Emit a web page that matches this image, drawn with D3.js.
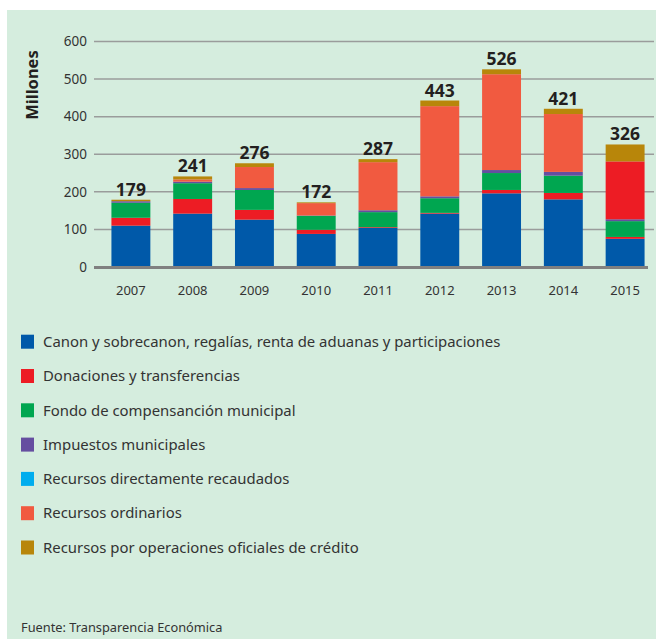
<!DOCTYPE html>
<html>
<head>
<meta charset="utf-8">
<script src="https://cdn.jsdelivr.net/npm/d3@7"></script>
<style>
  html, body { margin: 0; padding: 0; background: #fff; }
  svg { display: block; font-family: "Noto Sans", sans-serif; }
</style>
</head>
<body>
<svg id="chart" width="657" height="639"></svg>
<script>
(() => {

  const years = ["2007", "2008", "2009", "2010", "2011", "2012", "2013", "2014", "2015"]
  const canon = [110, 142, 126, 88, 104, 142, 196, 180, 75]
  const donaciones = [21, 39, 26, 11, 2, 2, 9, 17, 5]
  const fondo = [40, 42, 53, 37, 40, 39, 45, 46, 42]
  const impuestos = [4, 4, 5, 1, 5, 5, 8, 10, 5]
  const directos = [0, 0, 0, 0, 0, 0, 0, 0, 0]
  const ordinarios = [0, 6, 56, 33, 128, 240, 255, 154, 154]
  const credito = [4, 8, 10, 2, 8, 15, 13, 14, 45]
  const totals = [179, 241, 276, 172, 287, 443, 526, 421, 326]
  const yTicks = [0, 100, 200, 300, 400, 500, 600]

  const series = [
    { key: "canon", name: "Canon y sobrecanon, regalías, renta de aduanas y participaciones", values: canon, color: "#0059a9" },
    { key: "donaciones", name: "Donaciones y transferencias", values: donaciones, color: "#ed1c24" },
    { key: "fondo", name: "Fondo de compensanción municipal", values: fondo, color: "#00a650" },
    { key: "impuestos", name: "Impuestos municipales", values: impuestos, color: "#654ea0" },
    { key: "directos", name: "Recursos directamente recaudados", values: directos, color: "#00adee" },
    { key: "ordinarios", name: "Recursos ordinarios", values: ordinarios, color: "#f15a40" },
    { key: "credito", name: "Recursos por operaciones oficiales de crédito", values: credito, color: "#b8860a" }
  ]
  // in the source the 2015 "ordinarios" block is drawn in the red of donaciones
  const redOrdinarios = ["2015"]

  const rows = years.map((y, i) => {
    const r = { year: y }
    series.forEach(s => r[s.key] = s.values[i])
    return r
  })

  const stack = d3.stack().keys(series.map(s => s.key))(rows)
  const colorOf = d3.scaleOrdinal(series.map(s => s.key), series.map(s => s.color))

  const svg = d3.select("#chart")

  svg.append("rect")
    .attr("x", 7).attr("y", 10)
    .attr("width", 649).attr("height", 629)
    .attr("fill", "#d5edde")

  const x = d3.scaleBand().domain(years).range([100, 656]).paddingInner(0.37).paddingOuter(0.185)
  const y = d3.scaleLinear().domain([0, 600]).range([267, 41.5])

  // gridlines
  svg.append("g")
    .selectAll("line")
    .data(yTicks.filter(d => d > 0))
    .join("line")
    .attr("x1", 94).attr("x2", 654)
    .attr("y1", d => y(d)).attr("y2", d => y(d))
    .attr("stroke", "#9a9c9b")
    .attr("stroke-width", 1.5)

  svg.append("g")
    .selectAll("text")
    .data(yTicks)
    .join("text")
    .attr("x", 87)
    .attr("y", d => y(d))
    .attr("dy", "0.35em")
    .attr("text-anchor", "end")
    .attr("fill", "#333")
    .style("font-size", "13.5px")
    .text(d => d)

  // bars
  svg.append("g")
    .selectAll("g")
    .data(stack)
    .join("g")
    .selectAll("rect")
    .data(d => d.map(p => ({ key: d.key, p })))
    .join("rect")
    .attr("x", d => x(d.p.data.year))
    .attr("width", x.bandwidth())
    .attr("y", d => y(d.p[1]))
    .attr("height", d => y(d.p[0]) - y(d.p[1]))
    .attr("fill", d => (d.key === "ordinarios" && redOrdinarios.includes(d.p.data.year)) ? colorOf("donaciones") : colorOf(d.key))

  // baseline
  svg.append("line")
    .attr("x1", 94).attr("x2", 648)
    .attr("y1", y(0) + 0.5).attr("y2", y(0) + 0.5)
    .attr("stroke", "#808080")
    .attr("stroke-width", 3)

  // totals
  svg.append("g")
    .selectAll("text")
    .data(years)
    .join("text")
    .attr("x", d => x(d) + x.bandwidth() / 2)
    .attr("y", (d, i) => y(totals[i]) - 4)
    .attr("text-anchor", "middle")
    .attr("fill", "#231f20")
    .style("font-size", "17.5px")
    .style("font-weight", "bold")
    .text((d, i) => totals[i])

  // year labels
  svg.append("g")
    .selectAll("text")
    .data(years)
    .join("text")
    .attr("x", d => x(d) + x.bandwidth() / 2)
    .attr("y", 290)
    .attr("dy", "0.35em")
    .attr("text-anchor", "middle")
    .attr("fill", "#333")
    .style("font-size", "13px")
    .text(d => d)

  svg.append("text")
    .attr("transform", "translate(32,85) rotate(-90)")
    .attr("text-anchor", "middle")
    .attr("dy", "0.35em")
    .attr("fill", "#231f20")
    .style("font-size", "16.5px")
    .style("font-weight", "bold")
    .text("Millones")

  // legend
  const legend = svg.append("g")
    .selectAll("g")
    .data(series)
    .join("g")
    .attr("transform", (d, i) => `translate(21,${341.7 + i * 34.3})`)

  legend.append("rect")
    .attr("x", 0).attr("y", -7)
    .attr("width", 13).attr("height", 14)
    .attr("fill", d => d.color)

  legend.append("text")
    .attr("x", 22)
    .attr("dy", "0.35em")
    .attr("fill", "#333")
    .style("font-size", "14.9px")
    .text(d => d.name)

  svg.append("text")
    .attr("x", 21).attr("y", 628)
    .attr("dy", "0.35em")
    .attr("fill", "#333")
    .style("font-size", "12.8px")
    .text("Fuente: Transparencia Económica")

})()
</script>
</body>
</html>
